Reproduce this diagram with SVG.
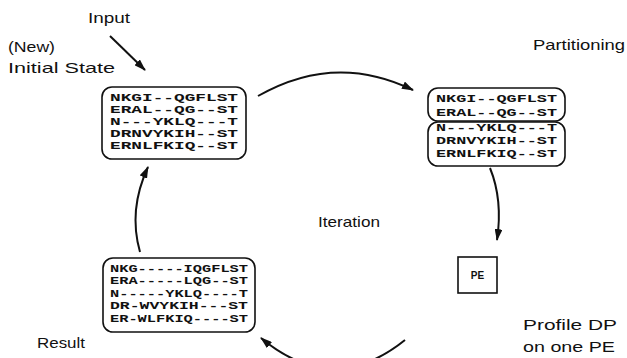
<svg xmlns="http://www.w3.org/2000/svg" width="627" height="358" viewBox="0 0 627 358">
<style>
.lbl{font-family:"Liberation Sans",Arial,sans-serif;font-size:14.5px;fill:#111}
.seq{font-family:"Liberation Mono","Courier New",monospace;font-weight:bold;font-size:10.6px;fill:#111}
.box{fill:none;stroke:#111;stroke-width:1.6}
.con{fill:none;stroke:#111;stroke-width:2}
</style>
<defs>
<marker id="ah" viewBox="0 0 12 8" refX="11" refY="4" markerWidth="12" markerHeight="8" markerUnits="userSpaceOnUse" orient="auto">
<path d="M0,0 L12,4 L0,8 z" fill="#111"/>
</marker>
</defs>
<rect width="627" height="358" fill="#fff"/>

<g id="labels">
<text class="lbl" x="88" y="23" textLength="42" lengthAdjust="spacingAndGlyphs">Input</text>
<text class="lbl" x="8" y="52" textLength="47" lengthAdjust="spacingAndGlyphs">(New)</text>
<text class="lbl" x="8" y="73" textLength="107" lengthAdjust="spacingAndGlyphs">Initial State</text>
<text class="lbl" x="533" y="50" textLength="92" lengthAdjust="spacingAndGlyphs">Partitioning</text>
<text class="lbl" x="318" y="227" textLength="62" lengthAdjust="spacingAndGlyphs">Iteration</text>
<text class="lbl" x="523" y="330" textLength="94" lengthAdjust="spacingAndGlyphs">Profile DP</text>
<text class="lbl" x="523" y="352" textLength="92" lengthAdjust="spacingAndGlyphs">on one PE</text>
<text class="lbl" x="37" y="348" textLength="48" lengthAdjust="spacingAndGlyphs">Result</text>
</g>

<g id="initial-state">
<rect class="box" x="102" y="87" width="144" height="72" rx="10"/>
<text class="seq" x="110" y="101" textLength="128" lengthAdjust="spacingAndGlyphs">NKGI--QGFLST</text>
<text class="seq" x="110" y="113" textLength="128" lengthAdjust="spacingAndGlyphs">ERAL--QG--ST</text>
<text class="seq" x="110" y="125" textLength="128" lengthAdjust="spacingAndGlyphs">N---YKLQ---T</text>
<text class="seq" x="110" y="137" textLength="128" lengthAdjust="spacingAndGlyphs">DRNVYKIH--ST</text>
<text class="seq" x="110" y="149" textLength="128" lengthAdjust="spacingAndGlyphs">ERNLFKIQ--ST</text>
</g>

<g id="partitioning">
<rect class="box" x="428" y="88" width="137" height="33" rx="10"/>
<rect class="box" x="428" y="122" width="137" height="44" rx="10"/>
<text class="seq" x="436" y="102" textLength="121" lengthAdjust="spacingAndGlyphs">NKGI--QGFLST</text>
<text class="seq" x="436" y="116" textLength="121" lengthAdjust="spacingAndGlyphs">ERAL--QG--ST</text>
<text class="seq" x="436" y="131" textLength="121" lengthAdjust="spacingAndGlyphs">N---YKLQ---T</text>
<text class="seq" x="436" y="144" textLength="121" lengthAdjust="spacingAndGlyphs">DRNVYKIH--ST</text>
<text class="seq" x="436" y="157" textLength="121" lengthAdjust="spacingAndGlyphs">ERNLFKIQ--ST</text>
</g>

<g id="pe">
<rect class="box" x="458" y="257" width="39" height="36" stroke-width="1.4"/>
<text x="477.5" y="279" text-anchor="middle" style="font-family:'Liberation Sans',Arial,sans-serif;font-size:10px;font-weight:bold;fill:#111">PE</text>
</g>

<g id="result">
<rect class="box" x="103" y="258" width="152" height="74" rx="10"/>
<text class="seq" x="110" y="272" textLength="138" lengthAdjust="spacingAndGlyphs">NKG-----IQGFLST</text>
<text class="seq" x="110" y="284" textLength="138" lengthAdjust="spacingAndGlyphs">ERA-----LQG--ST</text>
<text class="seq" x="110" y="297" textLength="138" lengthAdjust="spacingAndGlyphs">N-----YKLQ----T</text>
<text class="seq" x="110" y="309" textLength="138" lengthAdjust="spacingAndGlyphs">DR-WVYKIH---ST</text>
<text class="seq" x="110" y="322" textLength="138" lengthAdjust="spacingAndGlyphs">ER-WLFKIQ----ST</text>
</g>

<g id="connectors">
<path class="con" d="M110,36 L145,70" marker-end="url(#ah)"/>
<path class="con" d="M258,96 Q335,52 413,90" marker-end="url(#ah)"/>
<path class="con" d="M490,168 Q503,200 497,240" marker-end="url(#ah)"/>
<path class="con" d="M405,340 Q333,398 261,338" marker-end="url(#ah)"/>
<path class="con" d="M140,252 Q128,210 148,167" marker-end="url(#ah)"/>
</g>
</svg>
